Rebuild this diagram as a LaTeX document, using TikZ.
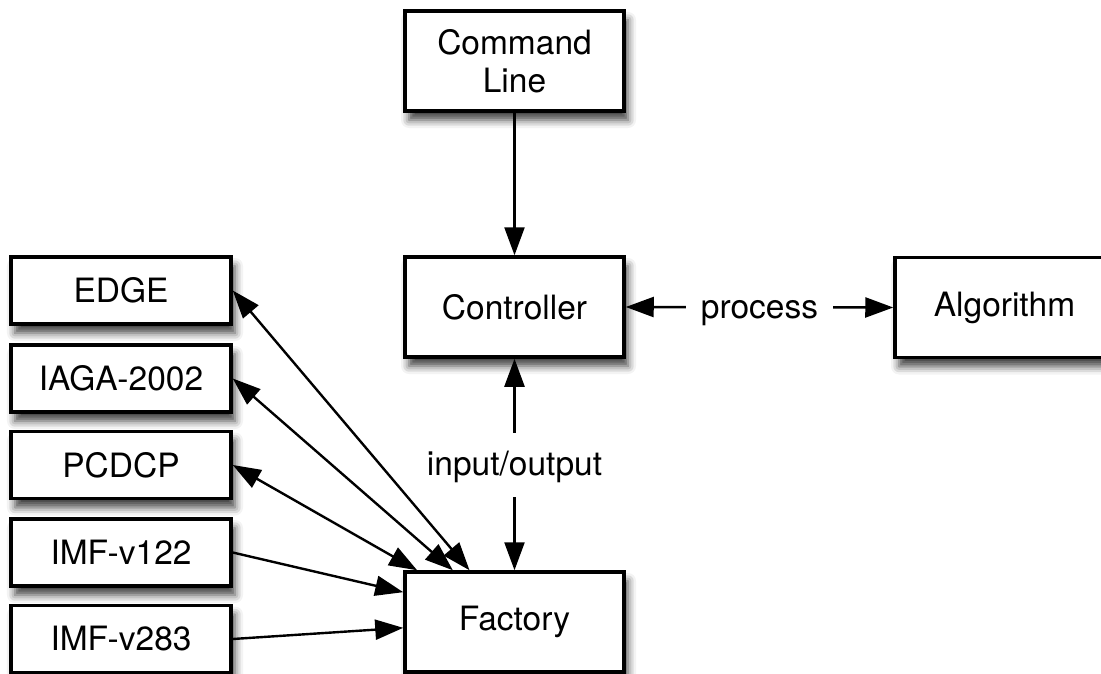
\documentclass[tikz,border=0pt]{standalone}
\usepackage{fontspec}
\setmainfont{TeX Gyre Heros}
\usepackage{tikz}
\usetikzlibrary{arrows.meta,shadows.blur}

\begin{document}
\begin{tikzpicture}[x=1pt,y=1pt, >={Triangle[length=28pt,width=20pt]},
		box/.style={draw, line width=3.5pt, fill=white, minimum width=219pt, minimum height=100pt,
			align=center, font=\fontsize{33.5}{38}\selectfont,
			blur shadow={shadow xshift=4pt, shadow yshift=-9pt, shadow blur radius=8pt, shadow opacity=75}},
		fmt/.style={box, minimum width=220pt, minimum height=67pt},
		link/.style={line width=2.4pt},
		lbl/.style={fill=white, inner xsep=15pt, inner ysep=16pt, text height=27pt, text depth=5pt,
			font=\fontsize{33.5}{38}\selectfont}]
	\path[use as bounding box, clip] (0,0) rectangle (1101,-674);
	% main column
	\node[box] at (514.5,-61) (cmd){Command\\Line};
	\node[box] at (514.5,-307) (ctrl){Controller};
	\node[box] at (1004.5,-307.5) (alg){Algorithm};
	\node[box] at (514.5,-622) (fac){Factory};
	% formats
	\node[fmt] at (121,-290.5) (edge){EDGE};
	\node[fmt] at (121,-378.5) (iaga){IAGA-2002};
	\node[fmt] at (121,-465) (pcdcp){PCDCP};
	\node[fmt] at (121,-552.5) (v122){IMF-v122};
	\node[fmt] at (121,-639) (v283){IMF-v283};
	\draw[link, ->] (cmd.south) -- (ctrl.north);
	\draw[link, <->] (ctrl.east) -- node[lbl]{process} (alg.west);
	\draw[link, <->] (ctrl.south) -- node[lbl]{input/output} (fac.north);
	\draw[link, <->] (edge.east) -- (fac.131.7);
	\draw[link, <->] (iaga.east) -- (fac.140.9);
	\draw[link, <->] (pcdcp.east) -- (fac.152.1);
	\draw[link, ->] (v122.east) -- (fac.165.2);
	\draw[link, ->] (v283.east) -- (fac.183.1);
\end{tikzpicture}
\end{document}
